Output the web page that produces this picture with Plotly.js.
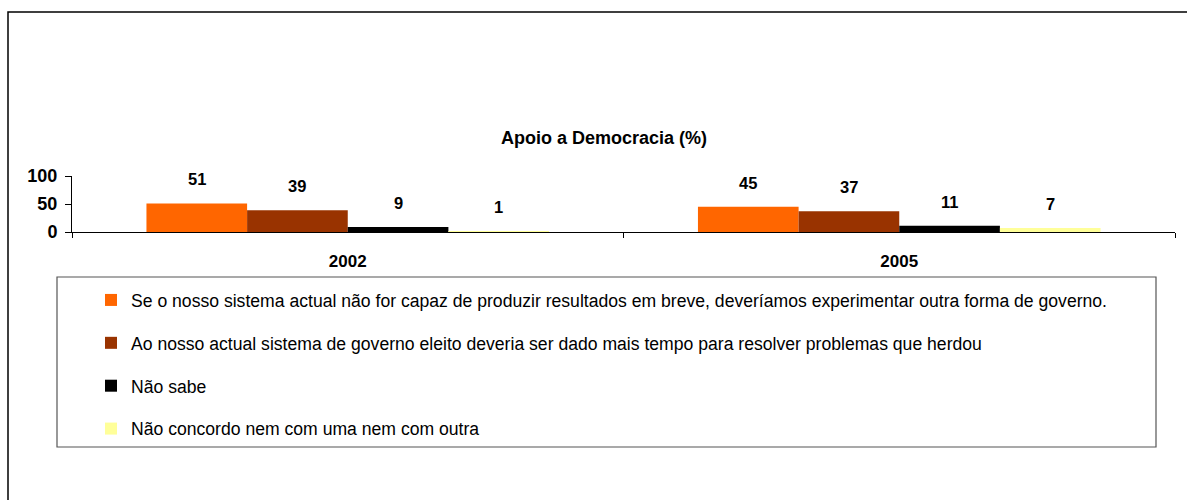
<!DOCTYPE html>
<html>
<head>
<meta charset="utf-8">
<script src="https://cdn.plot.ly/plotly-3.0.1.min.js"></script>
<style>html,body{margin:0;padding:0;background:#fff;}#chart{width:1187px;height:500px;}</style>
</head>
<body>
<div id="chart"></div>
<script>
const categories = ["2002", "2005"];
const seriesNames = [
  "Se o nosso sistema actual não for capaz de produzir resultados em breve, deveríamos experimentar outra forma de governo.",
  "Ao nosso actual sistema de governo eleito deveria ser dado mais tempo para resolver problemas que herdou",
  "Não sabe",
  "Não concordo nem com uma nem com outra"
];
const seriesValues = [
  [51, 45],
  [39, 37],
  [9, 11],
  [1, 7]
];
const seriesColors = ["#FF6600", "#993300", "#000000", "#FFFF99"];
const yTicks = [0, 50, 100];
const chartTitle = "Apoio a Democracia (%)";

const W = 1187, H = 500;
const mL = 72, mR = 12, mT = 176, mB = 268;
const pw = W - mL - mR, ph = H - mT - mB;
const px2x = p => (p - mL) / pw;
const py2y = p => (H - mB - p) / ph;

const FONT = "Liberation Sans, Arial, sans-serif";
const bargap = 0.27;
const nS = seriesValues.length;
const bw = (1 - bargap) / nS;

const traces = seriesValues.map((vals, i) => ({
  type: "bar",
  x: categories,
  y: vals,
  name: seriesNames[i],
  legendgroup: "g" + i,
  marker: { color: seriesColors[i], line: { width: 0 } },
  hoverinfo: "none"
}));

const annotations = [];
seriesValues.forEach((vals, i) => {
  vals.forEach((v, j) => {
    annotations.push({
      xref: "x", yref: "y",
      x: j + (i - (nS - 1) / 2) * bw,
      y: v,
      yshift: 24,
      text: "<b>" + v + "</b>",
      showarrow: false,
      font: { family: FONT, size: 16.5, color: "#000" }
    });
  });
});

const shapes = [
  // outer frame
  { type: "rect", xref: "paper", yref: "paper",
    x0: px2x(8), x1: px2x(1200), y0: py2y(520), y1: py2y(12),
    line: { color: "#000", width: 1.5 }, fillcolor: "rgba(0,0,0,0)", layer: "below" },
  // legend box
  { type: "rect", xref: "paper", yref: "paper",
    x0: px2x(57), x1: px2x(1156), y0: py2y(447), y1: py2y(277),
    line: { color: "#555", width: 1.2 }, fillcolor: "rgba(0,0,0,0)", layer: "below" }
];

const layout = {
  width: W, height: H,
  margin: { l: mL, r: mR, t: mT, b: mB, pad: 0 },
  paper_bgcolor: "#fff", plot_bgcolor: "#fff",
  font: { family: FONT, color: "#000" },
  title: {
    text: "<b>" + chartTitle + "</b>",
    font: { family: FONT, size: 18, color: "#000" },
    xref: "container", yref: "container",
    x: 604 / W, xanchor: "center",
    y: 1 - 138 / H, yanchor: "middle"
  },
  barmode: "group",
  bargap: bargap,
  bargroupgap: 0,
  showlegend: true,
  legend: {
    x: px2x(91), xanchor: "left",
    y: py2y(282), yanchor: "top",
    bgcolor: "rgba(0,0,0,0)", borderwidth: 0,
    traceorder: "normal+grouped",
    tracegroupgap: 17,
    font: { family: FONT, size: 17.6, color: "#000" },
    itemclick: false, itemdoubleclick: false
  },
  xaxis: {
    type: "category",
    showline: true, linecolor: "#000", linewidth: 1,
    ticks: "outside", tickson: "boundaries", ticklen: 5, tickcolor: "#000", tickwidth: 1,
    showgrid: false, zeroline: false,
    tickfont: { family: FONT, size: 17, color: "#000" },
    ticklabelstandoff: 14,
    tickvals: categories,
    ticktext: categories.map(c => "<b>" + c + "</b>"),
    fixedrange: true
  },
  yaxis: {
    range: [0, 100],
    tickvals: yTicks,
    ticktext: yTicks.map(t => "<b>" + t + "</b>"),
    showline: true, linecolor: "#000", linewidth: 1,
    ticks: "outside", ticklen: 6, tickcolor: "#000", tickwidth: 1,
    showgrid: false, zeroline: false,
    tickfont: { family: FONT, size: 18, color: "#000" },
    ticklabelstandoff: 4,
    fixedrange: true
  },
  annotations: annotations,
  shapes: shapes
};

Plotly.newPlot("chart", traces, layout, { displayModeBar: false, staticPlot: false });
</script>
</body>
</html>
